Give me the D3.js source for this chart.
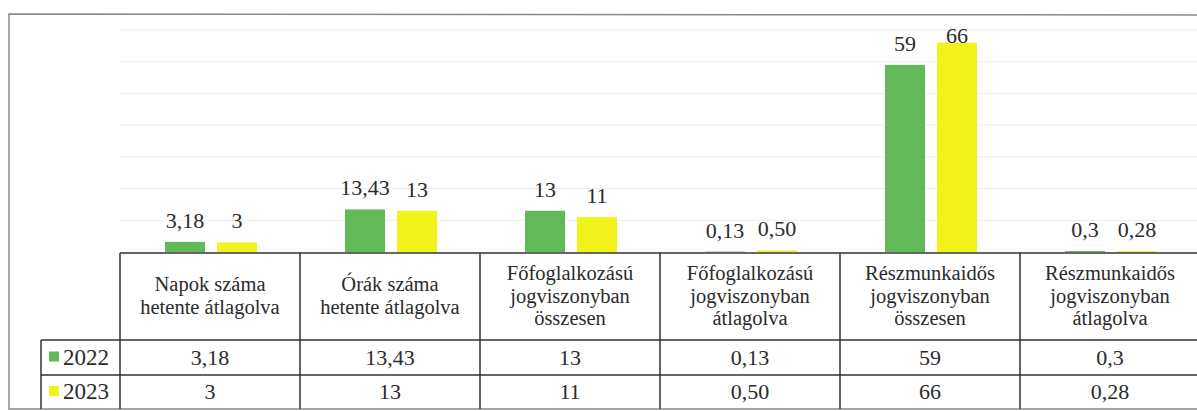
<!DOCTYPE html>
<html>
<head>
<meta charset="utf-8">
<script src="https://cdn.jsdelivr.net/npm/d3@7"></script>
<style>
  body { margin: 0; background: #fff; }
  svg text { font-family: "Liberation Serif", "Times New Roman", serif; }
</style>
</head>
<body>
<svg width="1197" height="411"></svg>
<script>
// categories (table header lines)
const categories = [
  ["Napok száma", "hetente átlagolva"],
  ["Órák száma", "hetente átlagolva"],
  ["Főfoglalkozású", "jogviszonyban", "összesen"],
  ["Főfoglalkozású", "jogviszonyban", "átlagolva"],
  ["Részmunkaidős", "jogviszonyban", "összesen"],
  ["Részmunkaidős", "jogviszonyban", "átlagolva"]
];
const years = ["2022", "2023"];
const values2022 = [3.18, 13.43, 13, 0.13, 59, 0.3];
const values2023 = [3, 13, 11, 0.5, 66, 0.28];
const labels2022 = ["3,18", "13,43", "13", "0,13", "59", "0,3"];
const labels2023 = ["3", "13", "11", "0,50", "66", "0,28"];
const yTicks = [10, 20, 30, 40, 50, 60, 70];

const colors = {"2022": "#62b957", "2023": "#f3f31c"};

const svg = d3.select("svg");

const catIdx = categories.map((d, i) => i);
const x = d3.scaleBand()
  .domain(catIdx)
  .range([120, 1200]);

const xSub = d3.scaleBand()
  .domain(years)
  .range([45, 137])
  .paddingInner(0.23);

const y = d3.scaleLinear()
  .domain([0, 70])
  .range([252, 30]);

// faint gridlines
svg.append("g")
  .selectAll("line")
  .data(yTicks)
  .join("line")
    .attr("x1", 120)
    .attr("x2", 1197)
    .attr("y1", d => y(d))
    .attr("y2", d => y(d))
    .attr("stroke", "#ececec")
    .attr("stroke-width", 1);

// bar data
const bars = [];
catIdx.forEach(i => {
  bars.push({cat: i, year: "2022", value: values2022[i], label: labels2022[i]});
  bars.push({cat: i, year: "2023", value: values2023[i], label: labels2023[i]});
});

svg.append("g")
  .selectAll("rect")
  .data(bars)
  .join("rect")
    .attr("x", d => x(d.cat) + xSub(d.year))
    .attr("y", d => y(d.value))
    .attr("width", xSub.bandwidth())
    .attr("height", d => y(0) - y(d.value))
    .attr("fill", d => colors[d.year]);

// data labels above bars (pushed down at the top of the plot)
svg.append("g")
  .selectAll("text")
  .data(bars)
  .join("text")
    .attr("x", d => x(d.cat) + xSub(d.year) + xSub.bandwidth() / 2)
    .attr("y", d => Math.max(y(d.value) - 14, 43))
    .attr("text-anchor", "middle")
    .attr("font-size", 22)
    .attr("fill", "#2b2b2b")
    .text(d => d.label);

// outer frame
svg.append("path")
  .attr("d", "M1197,15 L9,14 L9,409 L1197,409")
  .attr("fill", "none")
  .attr("stroke", "#8a8a8a")
  .attr("stroke-width", 1.5);

// table
const tableTop = 253, row1 = 340, row2 = 375, tableBottom = 409;
const legendLeft = 41;
const table = svg.append("g")
  .attr("stroke", "#333")
  .attr("stroke-width", 1.5);

table.append("line")
  .attr("x1", x(0)).attr("x2", 1197)
  .attr("y1", tableTop).attr("y2", tableTop);
[row1, row2].forEach(r => {
  table.append("line")
    .attr("x1", legendLeft).attr("x2", 1197)
    .attr("y1", r).attr("y2", r);
});
table.append("line")
  .attr("x1", legendLeft).attr("x2", legendLeft)
  .attr("y1", row1).attr("y2", tableBottom);
table.selectAll(".vline")
  .data(catIdx)
  .join("line")
    .attr("class", "vline")
    .attr("x1", d => x(d)).attr("x2", d => x(d))
    .attr("y1", tableTop).attr("y2", tableBottom);

// header text
const lineH = 22.5;
const headerMid = (tableTop + row1) / 2;
const headers = svg.append("g")
  .attr("font-size", 20.5)
  .attr("fill", "#2b2b2b")
  .attr("text-anchor", "middle");
catIdx.forEach(i => {
  const lines = categories[i];
  const y0 = headerMid - (lines.length - 1) * lineH / 2 + 6;
  lines.forEach((t, k) => {
    headers.append("text")
      .attr("x", x(i) + x.bandwidth() / 2)
      .attr("y", y0 + k * lineH)
      .text(t);
  });
});

// data rows
const rows = [
  {year: "2022", labels: labels2022, top: row1, bottom: row2},
  {year: "2023", labels: labels2023, top: row2, bottom: tableBottom}
];
rows.forEach(r => {
  const mid = (r.top + r.bottom) / 2 + 7;
  svg.append("g")
    .selectAll("text")
    .data(r.labels)
    .join("text")
      .attr("x", (d, i) => x(i) + x.bandwidth() / 2)
      .attr("y", mid)
      .attr("text-anchor", "middle")
      .attr("font-size", 22)
      .attr("fill", "#2b2b2b")
      .text(d => d);

  // legend key
  svg.append("rect")
    .attr("x", 49)
    .attr("y", mid - 13)
    .attr("width", 10)
    .attr("height", 10)
    .attr("fill", colors[r.year]);
  svg.append("text")
    .attr("x", 63)
    .attr("y", mid)
    .attr("font-size", 23)
    .attr("fill", "#2b2b2b")
    .text(r.year);
});
</script>
</body>
</html>
